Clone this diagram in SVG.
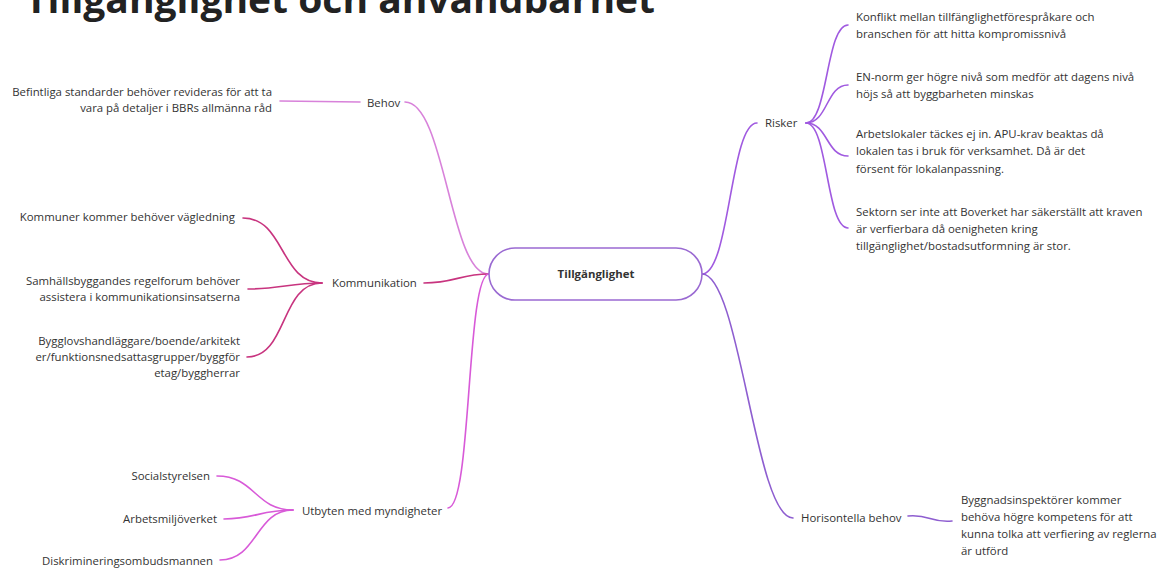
<svg xmlns="http://www.w3.org/2000/svg" width="1164" height="570" viewBox="0 0 1164 570">
<style>
text{font-family:"Open Sans","Noto Sans","Liberation Sans",sans-serif;font-size:11.4px;fill:#333}
.title{font-size:38px;font-weight:bold;fill:#222}
.r{text-anchor:end}
.c{fill:none;stroke-width:1.6;stroke-linecap:round}
.behov{stroke:#d882da}
.komm{stroke:#c8347f}
.utb{stroke:#d85ad8}
.risk{stroke:#a05ae0}
.hor{stroke:#8e5ed0}
</style>
<rect width="1164" height="570" fill="#fff"/>
<text class="title" x="25" y="13" textLength="630" lengthAdjust="spacingAndGlyphs">Tillgänglighet och användbarhet</text>
<g id="connectors">
<path class="c behov" d="M280,101 L360,102"/>
<path class="c behov" d="M405,102 C445,102 450,273 488,274"/>
<path class="c komm" d="M424,283 C455,283 460,274 489,274"/>
<path class="c komm" d="M322,283 C280,283 285,218 243,218"/>
<path class="c komm" d="M322,283 C290,283 280,289 248,289"/>
<path class="c komm" d="M322,283 C280,283 288,357 247,357"/>
<path class="c utb" d="M448,508 C472,508 466,274 489,274"/>
<path class="c utb" d="M293,510 C255,510 255,476 217,476"/>
<path class="c utb" d="M293,510 C260,510 255,519 224,519"/>
<path class="c utb" d="M293,510 C255,510 258,560 220,560"/>
<path class="c risk" d="M702,274 C730,274 730,123 757,123"/>
<path class="c risk" d="M806,123 C828,123 826,25 848,25"/>
<path class="c risk" d="M806,123 C828,123 826,85 848,85"/>
<path class="c risk" d="M806,123 C828,123 826,156 848,156"/>
<path class="c risk" d="M806,123 C828,123 826,228 848,228"/>
<path class="c hor" d="M702,274 C740,274 755,518 793,518"/>
<path class="c hor" d="M908,516 C930,514 930,523 952,521"/>
</g>
<g id="center">
<rect x="489" y="248" width="213" height="52" rx="26" fill="#fff" stroke="#9a6ad2" stroke-width="1.6"/>
<text x="596" y="278" text-anchor="middle" font-weight="bold">Tillgänglighet</text>
</g>
<g id="behov"><text x="367" y="107">Behov</text></g>
<g id="befintliga"><text class="r" x="272" y="96">Befintliga standarder behöver revideras för att ta</text><text class="r" x="272" y="112">vara på detaljer i BBRs allmänna råd</text></g>
<g id="kommunikation"><text x="332" y="287">Kommunikation</text></g>
<g id="kommuner"><text class="r" x="235" y="221">Kommuner kommer behöver vägledning</text></g>
<g id="samhalls"><text class="r" x="240" y="285">Samhällsbyggandes regelforum behöver</text><text class="r" x="240" y="301">assistera i kommunikationsinsatserna</text></g>
<g id="bygglov"><text class="r" x="240" y="345">Bygglovshandläggare/boende/arkitekt</text><text class="r" x="240" y="361">er/funktionsnedsattasgrupper/byggför</text><text class="r" x="240" y="377">etag/byggherrar</text></g>
<g id="utbyten"><text x="302" y="515">Utbyten med myndigheter</text></g>
<g id="socialstyrelsen"><text class="r" x="210" y="480">Socialstyrelsen</text></g>
<g id="arbetsmiljo"><text class="r" x="217" y="523">Arbetsmiljöverket</text></g>
<g id="diskriminering"><text class="r" x="213" y="565">Diskrimineringsombudsmannen</text></g>
<g id="risker"><text x="765" y="127">Risker</text></g>
<g id="konflikt"><text x="856" y="21">Konflikt mellan tillfänglighetförespråkare och</text><text x="856" y="38">branschen för att hitta kompromissnivå</text></g>
<g id="ennorm"><text x="856" y="81">EN-norm ger högre nivå som medför att dagens nivå</text><text x="856" y="98">höjs så att byggbarheten minskas</text></g>
<g id="arbetslokaler"><text x="856" y="138">Arbetslokaler täckes ej in. APU-krav beaktas då</text><text x="856" y="155">lokalen tas i bruk för verksamhet. Då är det</text><text x="856" y="173">försent för lokalanpassning.</text></g>
<g id="sektorn"><text x="856" y="216">Sektorn ser inte att Boverket har säkerställt att kraven</text><text x="856" y="233">är verfierbara då oenigheten kring</text><text x="856" y="250">tillgänglighet/bostadsutformning är stor.</text></g>
<g id="horisontella"><text x="801" y="522">Horisontella behov</text></g>
<g id="byggnadsinsp"><text x="961" y="504">Byggnadsinspektörer kommer</text><text x="961" y="521">behöva högre kompetens för att</text><text x="961" y="538">kunna tolka att verfiering av reglerna</text><text x="961" y="555">är utförd</text></g>
</svg>
